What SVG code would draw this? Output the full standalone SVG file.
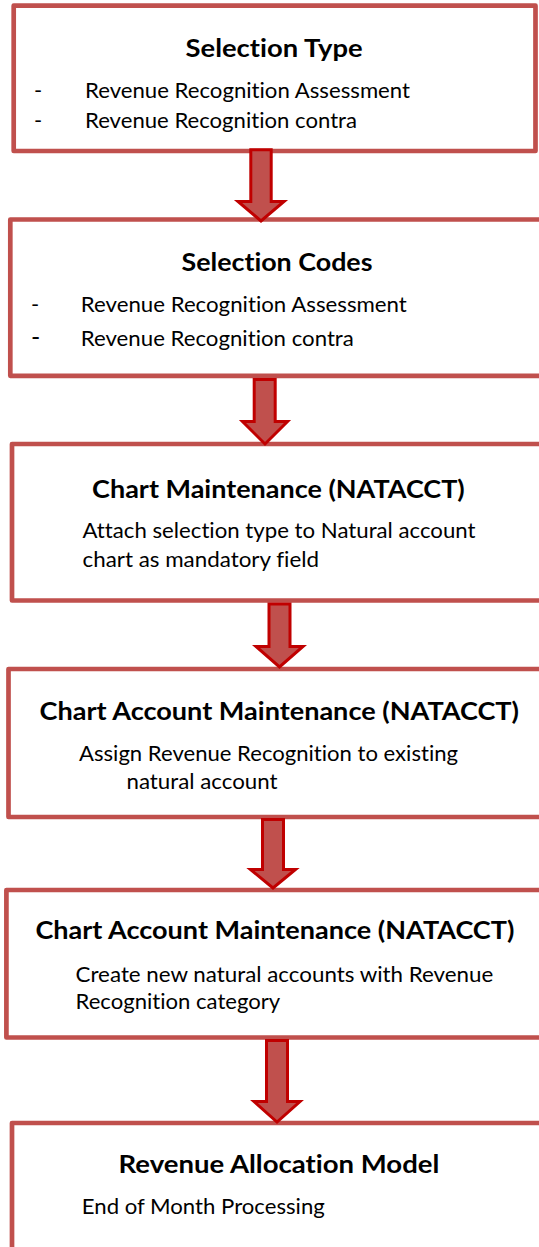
<svg xmlns="http://www.w3.org/2000/svg" width="539" height="1247" viewBox="0 0 539 1247">
  <style>
    .box { fill: #FFFFFF; stroke: #C0504D; stroke-width: 4.7; stroke-linejoin: round; }
    .title { font-family: Lato, "Liberation Sans", sans-serif; font-weight: bold; font-size: 25px; fill: #000000; font-variant-ligatures: none; }
    .body { font-family: Lato, "Liberation Sans", sans-serif; font-size: 22px; fill: #000000; font-variant-ligatures: none; }
    .flow { fill: #C0504D; stroke: #C00000; stroke-width: 3; stroke-linejoin: miter; }
  </style>
  <rect width="539" height="1247" fill="#FFFFFF"/>

  <g id="selection-type">
    <rect class="box" x="13.7" y="5.7" width="521.8" height="145.3"/>
    <text class="title" x="185.6" y="57" textLength="177" lengthAdjust="spacingAndGlyphs">Selection Type</text>
    <text class="body" x="34" y="98.3">-</text>
    <text class="body" x="85" y="98.3" textLength="325" lengthAdjust="spacingAndGlyphs">Revenue Recognition Assessment</text>
    <text class="body" x="34" y="127.7">-</text>
    <text class="body" x="85" y="127.7" textLength="272" lengthAdjust="spacingAndGlyphs">Revenue Recognition contra</text>
  </g>

  <g id="selection-codes">
    <rect class="box" x="10.3" y="219.5" width="540" height="156.3"/>
    <text class="title" x="181.5" y="271" textLength="191" lengthAdjust="spacingAndGlyphs">Selection Codes</text>
    <text class="body" x="31" y="311.7">-</text>
    <text class="body" x="80.8" y="311.7" textLength="326" lengthAdjust="spacingAndGlyphs">Revenue Recognition Assessment</text>
    <text class="body" x="31" y="346" style="font-size:25px">-</text>
    <text class="body" x="80.8" y="346" textLength="273" lengthAdjust="spacingAndGlyphs">Revenue Recognition contra</text>
  </g>

  <g id="chart-maintenance">
    <rect class="box" x="12" y="444" width="540" height="156.5"/>
    <text class="title" x="92.1" y="498.3" textLength="372.7" lengthAdjust="spacingAndGlyphs">Chart Maintenance (NATACCT)</text>
    <text class="body" x="82.5" y="538.3" textLength="393" lengthAdjust="spacingAndGlyphs">Attach selection type to Natural account</text>
    <text class="body" x="82.5" y="567.3" textLength="236.5" lengthAdjust="spacingAndGlyphs">chart as mandatory field</text>
  </g>

  <g id="chart-account-existing">
    <rect class="box" x="8.5" y="669" width="540" height="148"/>
    <text class="title" x="39.5" y="720" textLength="479.5" lengthAdjust="spacingAndGlyphs">Chart Account Maintenance (NATACCT)</text>
    <text class="body" x="79" y="761" textLength="379" lengthAdjust="spacingAndGlyphs">Assign Revenue Recognition to existing</text>
    <text class="body" x="126.5" y="789.3" textLength="151" lengthAdjust="spacingAndGlyphs">natural account</text>
  </g>

  <g id="chart-account-new">
    <rect class="box" x="6.4" y="890" width="540" height="147.5"/>
    <text class="title" x="35.4" y="939.3" textLength="479" lengthAdjust="spacingAndGlyphs">Chart Account Maintenance (NATACCT)</text>
    <text class="body" x="75.6" y="981.7" textLength="417.7" lengthAdjust="spacingAndGlyphs">Create new natural accounts with Revenue</text>
    <text class="body" x="75.6" y="1009.3" textLength="204.6" lengthAdjust="spacingAndGlyphs">Recognition category</text>
  </g>

  <g id="revenue-allocation">
    <rect class="box" x="12" y="1123" width="540" height="140"/>
    <text class="title" x="118.6" y="1173.3" textLength="320.7" lengthAdjust="spacingAndGlyphs">Revenue Allocation Model</text>
    <text class="body" x="81.8" y="1214.3" textLength="243" lengthAdjust="spacingAndGlyphs">End of Month Processing</text>
  </g>

  <!-- block arrows between the steps -->
  <g id="connectors">
    <path class="flow" d="M250.8,149.8 H271.2 V201.5 H284 L261,221 L238,201.5 H250.8 Z"/>
    <path class="flow" d="M254.2,379.5 H275.2 V421.5 H287.5 L265,444 L242.5,421.5 H254.2 Z"/>
    <path class="flow" d="M269,604 H290 V646.5 H303 L279.5,667 L256,646.5 H269 Z"/>
    <path class="flow" d="M262.5,819.5 H283.5 V869.5 H295.5 L273,888 L250.5,869.5 H262.5 Z"/>
    <path class="flow" d="M266.5,1040.5 H287.5 V1101.5 H300 L277,1122 L254,1101.5 H266.5 Z"/>
  </g>
</svg>
